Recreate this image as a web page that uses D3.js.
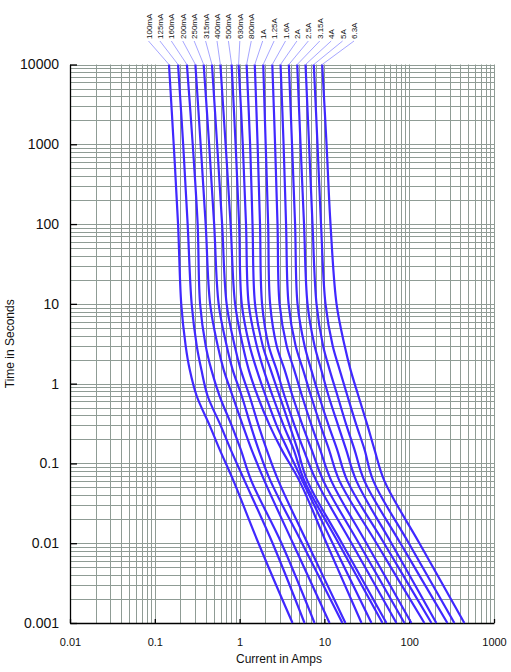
<!DOCTYPE html>
<html>
<head>
<meta charset="utf-8">
<script src="https://cdn.jsdelivr.net/npm/d3@7"></script>
<style>
  body { margin: 0; background: #fff; }
  svg { display: block; }
</style>
</head>
<body>
<div id="chart"></div>
<script>
// fuse ratings, in the order of the labels across the top
const ratings = ["100mA", "125mA", "160mA", "200mA", "250mA", "315mA", "400mA", "500mA", "630mA",
  "800mA", "1A", "1.25A", "1.6A", "2A", "2.5A", "3.15A", "4A", "5A", "6.3A"];

const times = [10000, 1000, 100, 10, 3, 1.5, 0.7, 0.3, 0.15, 0.06, 0.01, 0.001];

// current (A) for each rating at those times
const amps100mA = [0.147, 0.167, 0.188, 0.205, 0.231, 0.258, 0.312, 0.443, 0.581, 0.850, 1.67, 4.21];
const amps125mA = [0.188, 0.216, 0.244, 0.272, 0.312, 0.354, 0.420, 0.597, 0.783, 1.15, 2.45, 5.83];
const amps160mA = [0.239, 0.280, 0.320, 0.342, 0.398, 0.464, 0.581, 0.805, 1.03, 1.38, 3.12, 7.65];
const amps200mA = [0.301, 0.347, 0.398, 0.449, 0.551, 0.648, 0.827, 1.09, 1.38, 1.97, 4.26, 11.5];
const amps250mA = [0.377, 0.437, 0.501, 0.566, 0.703, 0.827, 1.06, 1.35, 1.67, 2.32, 5.45, 16.3];
const amps315mA = [0.472, 0.543, 0.622, 0.703, 0.873, 1.03, 1.31, 1.67, 2.08, 2.88, 6.32, 17.7];
const amps400mA = [0.593, 0.684, 0.783, 0.885, 1.09, 1.28, 1.63, 2.26, 3.12, 5.09, 10.6, 27.4];
const amps500mA = [0.805, 0.897, 0.987, 1.06, 1.31, 1.59, 2.03, 2.73, 3.68, 5.52, 12.5, 35.9];
const amps630mA = [0.973, 1.09, 1.19, 1.28, 1.59, 1.92, 2.45, 3.30, 4.33, 5.83, 14.7, 48.4];
const amps800mA = [1.21, 1.33, 1.42, 1.52, 1.87, 2.32, 2.96, 3.88, 4.82, 6.32, 16.1, 53.9];
const amps1A    = [1.51, 1.63, 1.74, 1.84, 2.20, 2.73, 3.39, 4.44, 5.67, 8.07, 20.9, 70.7];
const amps1_25A = [1.90, 2.03, 2.17, 2.29, 2.73, 3.39, 4.21, 5.52, 7.05, 9.76, 25.5, 87.8];
const amps1_6A  = [2.43, 2.62, 2.80, 2.96, 3.58, 4.39, 5.45, 7.05, 8.88, 12.1, 31.3, 106];
const amps2A    = [3.04, 3.30, 3.53, 3.78, 4.57, 5.60, 6.95, 9.00, 11.3, 15.1, 41.1, 151];
const amps2_5A  = [3.81, 4.15, 4.51, 4.82, 5.83, 6.99, 8.64, 11.2, 14.1, 18.7, 50.6, 183];
const amps3_15A = [4.78, 5.23, 5.75, 6.32, 7.65, 9.17, 11.2, 14.5, 18.0, 23.9, 61.7, 209];
const amps4A    = [5.99, 6.59, 7.24, 8.07, 9.63, 11.5, 14.3, 18.2, 22.6, 29.7, 78.8, 282];
const amps5A    = [7.50, 8.29, 9.12, 10.3, 12.5, 15.1, 18.7, 23.9, 29.7, 37.9, 99.0, 341];
const amps6_3A  = [9.42, 10.6, 11.8, 13.9, 17.3, 20.3, 25.2, 32.2, 38.9, 51.1, 132, 447];

const xTicks = [0.01, 0.1, 1, 10, 100, 1000];
const xTickLabels = ["0.01", "0.1", "1", "10", "100", "1000"];
const yTicks = [0.001, 0.01, 0.1, 1, 10, 100, 1000, 10000];
const yTickLabels = ["0.001", "0.01", "0.1", "1", "10", "100", "1000", "10000"];

const curveAmps = [amps100mA, amps125mA, amps160mA, amps200mA, amps250mA, amps315mA, amps400mA,
  amps500mA, amps630mA, amps800mA, amps1A, amps1_25A, amps1_6A, amps2A, amps2_5A, amps3_15A,
  amps4A, amps5A, amps6_3A];

const curves = ratings.map((r, i) => ({
  rating: r,
  points: times.map((t, j) => ({ t: t, amp: curveAmps[i][j] }))
}));

const width = 511, height = 672;
const margin = { top: 64.5, right: 17, bottom: 49, left: 70 };

const svg = d3.select("#chart").append("svg")
  .attr("width", width)
  .attr("height", height);

const x = d3.scaleLog().domain([0.01, 1000]).range([margin.left, width - margin.right]);
const y = d3.scaleLog().domain([0.001, 10000]).range([height - margin.bottom, margin.top]);

// grid: every 1..9 multiple in each decade
const grid = svg.append("g").attr("stroke", "#8f9c95").attr("stroke-width", 1);
grid.selectAll("line.v")
  .data(x.ticks())
  .join("line")
    .attr("class", "v")
    .attr("x1", d => Math.round(x(d)) + 0.5).attr("x2", d => Math.round(x(d)) + 0.5)
    .attr("y1", y.range()[1]).attr("y2", y.range()[0]);
grid.selectAll("line.h")
  .data(y.ticks())
  .join("line")
    .attr("class", "h")
    .attr("x1", x.range()[0]).attr("x2", x.range()[1])
    .attr("y1", d => Math.round(y(d)) + 0.5).attr("y2", d => Math.round(y(d)) + 0.5);

// axes
const axisFont = "'Liberation Sans', Arial, sans-serif";

const yAxis = svg.append("g")
  .attr("transform", `translate(${margin.left},0)`)
  .call(d3.axisLeft(y).tickValues(yTicks).tickFormat((d, i) => yTickLabels[i])
    .tickSize(-7).tickSizeOuter(0).tickPadding(11));
yAxis.selectAll("text").attr("font-family", axisFont).attr("font-size", 14).attr("fill", "#111");
yAxis.selectAll("path, line").attr("stroke", "#000").attr("stroke-width", 1.3);

const xAxis = svg.append("g")
  .attr("transform", `translate(0,${height - margin.bottom})`)
  .call(d3.axisBottom(x).tickValues(xTicks).tickFormat((d, i) => xTickLabels[i])
    .tickSize(-4).tickSizeOuter(0).tickPadding(15));
xAxis.selectAll("text").attr("font-family", axisFont).attr("font-size", 11).attr("fill", "#111");
xAxis.selectAll("path, line").attr("stroke", "#000").attr("stroke-width", 1.3);

svg.append("text")
  .attr("x", 279).attr("y", 663)
  .attr("text-anchor", "middle")
  .attr("font-family", axisFont).attr("font-size", 12).attr("fill", "#111")
  .text("Current in Amps");

svg.append("text")
  .attr("transform", `translate(14,${(y.range()[0] + y.range()[1]) / 2}) rotate(-90)`)
  .attr("text-anchor", "middle")
  .attr("font-family", axisFont).attr("font-size", 12).attr("fill", "#111")
  .text("Time in Seconds");

// the characteristic curves
const line = d3.line()
  .x(d => x(d.amp))
  .y(d => y(d.t))
  .curve(d3.curveCatmullRom.alpha(0.5));

svg.append("g")
  .selectAll("path")
  .data(curves)
  .join("path")
    .attr("d", d => line(d.points))
    .attr("fill", "none")
    .attr("stroke", "#4028ff")
    .attr("stroke-width", 2.2)
    .attr("stroke-linejoin", "round");

// rating labels along the top, with leader lines down to each curve
const labelX = d3.scalePoint().domain(ratings).range([148.5, 354]);
const labelBase = 39;

svg.append("g")
  .selectAll("line")
  .data(curves)
  .join("line")
    .attr("x1", d => labelX(d.rating))
    .attr("y1", labelBase + 2)
    .attr("x2", d => x(d.points[0].amp))
    .attr("y2", d => y(d.points[0].t))
    .attr("stroke", "#9c9cff")
    .attr("stroke-width", 0.9);

svg.append("g")
  .selectAll("text")
  .data(curves)
  .join("text")
    .attr("transform", d => `translate(${labelX(d.rating) + 3},${labelBase}) rotate(-90)`)
    .attr("text-anchor", "start")
    .attr("font-family", axisFont)
    .attr("font-size", 8)
    .attr("fill", "#111")
    .text(d => d.rating);
</script>
</body>
</html>
